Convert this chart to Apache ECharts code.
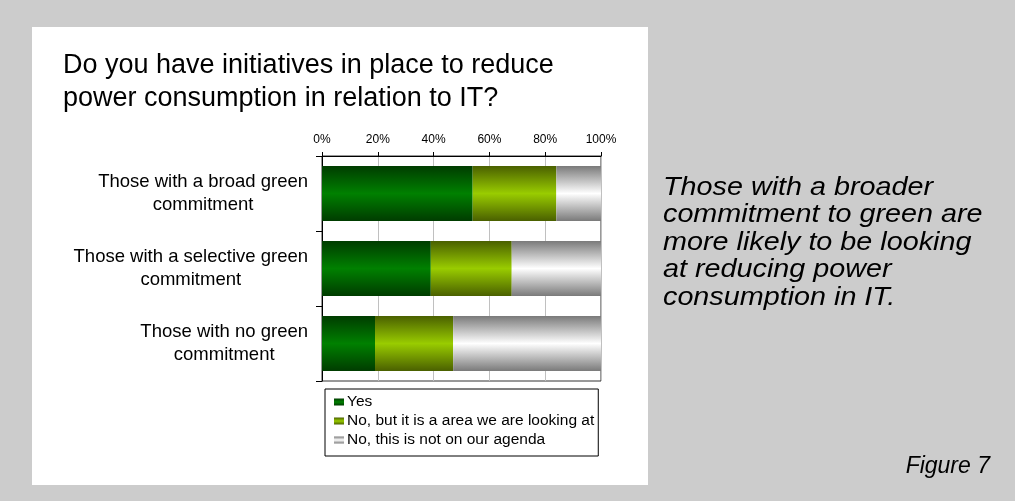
<!DOCTYPE html>
<html>
<head>
<meta charset="utf-8">
<script src="https://cdn.jsdelivr.net/npm/echarts@6/dist/echarts.min.js"></script>
<style>
  html, body { margin: 0; padding: 0; background: #cccccc; }
  #chart { width: 1015px; height: 501px; }
</style>
</head>
<body>
<div id="chart"></div>
<script>
var myChart = echarts.init(document.getElementById("chart"));

// data (percent of respondents)
var categories = ['Those with a broad green\ncommitment', 'Those with a selective green\ncommitment', 'Those with no green\ncommitment'];
var seriesNames = ['Yes', 'No, but it is a area we are looking at', 'No, this is not on our agenda'];
var yesData = [54, 39, 19];
var lookingData = [30, 29, 28];
var notAgendaData = [16, 32, 53];
var xTicks = [0, 20, 40, 60, 80, 100];

var font = "'Liberation Sans', Arial, sans-serif";

// vertical "tube" gradient: dark edges, light middle
function tube(edge, mid) {
	return new echarts.graphic.LinearGradient(0, 0, 0, 1, [
		{ offset: 0, color: edge },
		{ offset: 0.5, color: mid },
		{ offset: 1, color: edge }
	]);
}

var option = {
	backgroundColor: '#cccccc',
	textStyle: { fontFamily: font, color: '#000' },
	graphic: [{
		type: 'rect',
		z: -10,
		shape: { x: 32, y: 27, width: 616, height: 458 },
		style: { fill: '#ffffff' }
	}, {
		// side comment, the original is drawn a bit wide
		type: 'text',
		x: 663,
		y: 174,
		scaleX: 1.15,
		style: {
			text: 'Those with a broader\ncommitment to green are\nmore likely to be looking\nat reducing power\nconsumption in IT.',
			fontFamily: font,
			fontStyle: 'italic',
			fontSize: 25,
			lineHeight: 27.5,
			fill: '#000',
			verticalAlign: 'top'
		}
	}],
	title: [{
		text: 'Do you have initiatives in place to reduce\npower consumption in relation to IT?',
		left: 63,
		top: 49,
		padding: 0,
		textStyle: { fontFamily: font, fontWeight: 'normal', fontSize: 27, lineHeight: 33, color: '#000' }
	}, {
		text: 'Figure 7',
		right: 25,
		top: 455,
		padding: 0,
		textStyle: { fontFamily: font, fontWeight: 'normal', fontStyle: 'italic', fontSize: 23, lineHeight: 24, color: '#000' }
	}],
	legend: {
		orient: 'vertical',
		left: 325,
		top: 389,
		padding: [5, 4, 8, 9],
		itemGap: 3,
		itemWidth: 10,
		itemHeight: 7,
		icon: 'rect',
		selectedMode: false,
		borderColor: '#000',
		borderWidth: 1,
		backgroundColor: '#fff',
		data: seriesNames,
		textStyle: { fontFamily: font, fontSize: 15.5, lineHeight: 16, color: '#000', padding: [0, 0, 0, -2] }
	},
	grid: {
		left: 322,
		top: 156,
		width: 279,
		height: 225,
		show: true,
		borderColor: '#333',
		borderWidth: 1,
		containLabel: false
	},
	xAxis: {
		type: 'value',
		position: 'top',
		min: 0,
		max: 100,
		interval: 20,
		axisLine: { show: true, lineStyle: { color: '#000' } },
		axisTick: { show: true, length: 4, lineStyle: { color: '#000' } },
		axisLabel: {
			margin: 10,
			fontSize: 12,
			color: '#000',
			fontFamily: font,
			formatter: function (v) { return xTicks.indexOf(v) >= 0 ? v + '%' : ''; }
		},
		splitLine: { show: true, lineStyle: { color: '#c0c0c0', width: 1 } }
	},
	yAxis: {
		type: 'category',
		inverse: true,
		data: categories,
		axisLine: { show: true, lineStyle: { color: '#000' } },
		axisTick: { show: true, length: 6, lineStyle: { color: '#000' } },
		axisLabel: {
			margin: 14,
			fontFamily: font,
			formatter: function (v) {
				return v.split('\n').map(function (s) { return '{c|' + s + '}'; }).join('\n');
			},
			rich: {
				c: { align: 'center', fontSize: 18.5, lineHeight: 23, color: '#000', fontFamily: font }
			}
		}
	},
	series: [{
		name: seriesNames[0],
		type: 'bar',
		stack: 'total',
		barWidth: 55,
		data: yesData,
		itemStyle: { color: tube('#003c00', '#008000') }
	}, {
		name: seriesNames[1],
		type: 'bar',
		stack: 'total',
		barWidth: 55,
		data: lookingData,
		itemStyle: { color: tube('#4a6000', '#99cc00') }
	}, {
		name: seriesNames[2],
		type: 'bar',
		stack: 'total',
		barWidth: 55,
		data: notAgendaData,
		itemStyle: { color: tube('#7a7a7a', '#ffffff') }
	}]
};

myChart.setOption(option);
</script>
</body>
</html>
